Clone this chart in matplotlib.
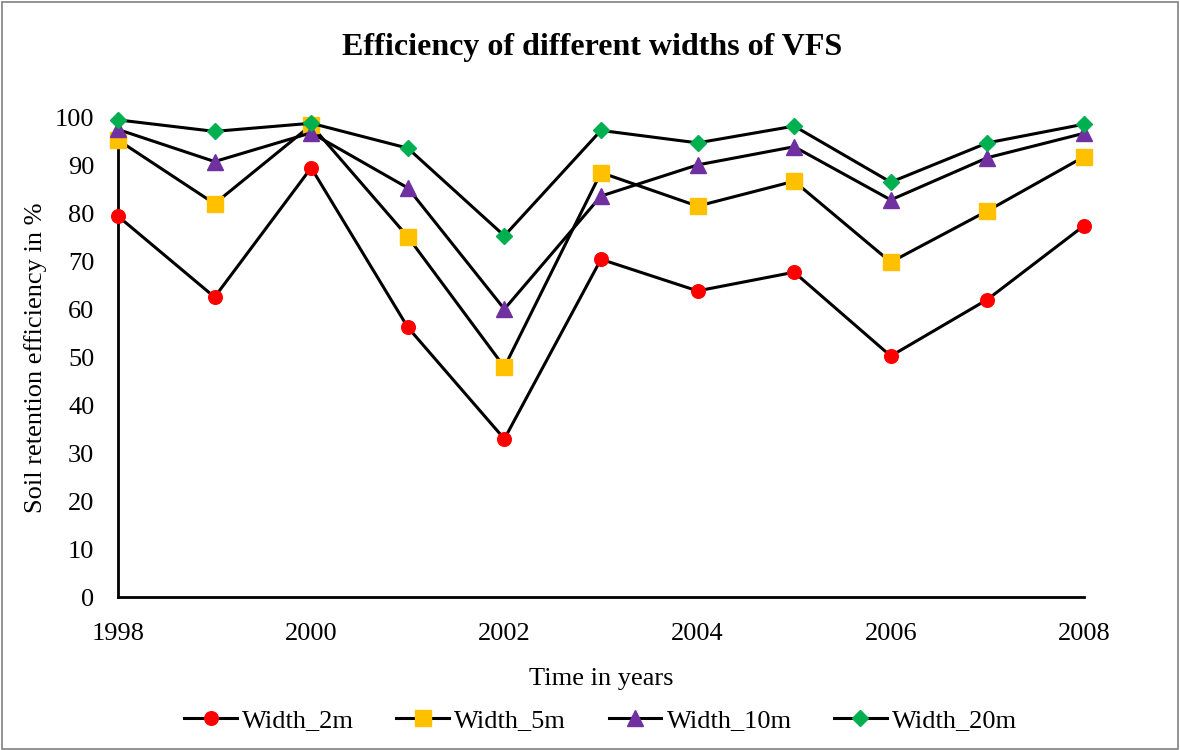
import matplotlib
matplotlib.use("Agg")
import matplotlib.pyplot as plt
from matplotlib.patches import Rectangle

plt.rcParams['font.family'] = ['Liberation Serif', 'DejaVu Serif']

years = [1998, 1999, 2000, 2001, 2002, 2003, 2004, 2005, 2006, 2007, 2008]
width_2m = [79.5, 62.6, 89.6, 56.3, 33.0, 70.5, 63.9, 67.8, 50.3, 62.1, 77.5]
width_5m = [95.4, 82.1, 98.5, 75.2, 48.0, 88.6, 81.6, 86.8, 69.9, 80.6, 91.9]
width_10m = [97.6, 90.9, 96.9, 85.4, 60.1, 83.7, 90.2, 94.0, 82.9, 91.7, 96.8]
width_20m = [99.6, 97.2, 98.9, 93.7, 75.4, 97.4, 94.8, 98.3, 86.6, 94.8, 98.7]

series = [
    ("Width_2m", width_2m, "o", "#FF0000", 9.8),
    ("Width_5m", width_5m, "s", "#FFC000", 11.2),
    ("Width_10m", width_10m, "^", "#7030A0", 11.5),
    ("Width_20m", width_20m, "D", "#00B050", 8.2),
]

fig = plt.figure(figsize=(11.8, 7.5), dpi=100)
ax = fig.add_axes([0.1, 0.204, 0.8186, 0.6387])

for name, vals, mk, col, ms in series:
    ax.plot(years, vals, color="black", linewidth=2.2, marker=mk,
            markerfacecolor=col, markeredgecolor=col, markersize=ms,
            label=name, zorder=3, clip_on=False)

ax.set_xlim(1998, 2008)
ax.set_ylim(0, 100)
ax.set_xticks([1998, 2000, 2002, 2004, 2006, 2008])
ax.set_yticks(range(0, 101, 10))
ax.tick_params(axis='x', length=0, labelsize=19, pad=19)
ax.tick_params(axis='y', length=0, labelsize=19, pad=17)
for s in ['top', 'right']:
    ax.spines[s].set_visible(False)
for s in ['left', 'bottom']:
    ax.spines[s].set_linewidth(2)
    ax.spines[s].set_color('black')

ax.set_xlabel("Time in years", fontsize=19, labelpad=16)
ax.set_ylabel("Soil retention efficiency in %", fontsize=19, labelpad=6)
fig.text(0.502, 0.937, "Efficiency of different widths of VFS", ha='center',
         va='center', fontsize=23, fontweight='bold')

leg = fig.legend(loc='center', bbox_to_anchor=(0.509, 0.04), ncol=4,
                 frameon=False, fontsize=19, handlelength=2.0,
                 columnspacing=1.6, handletextpad=0.2)

fig.patches.append(Rectangle((0.002, 0.002), 0.996, 0.996, transform=fig.transFigure,
                             fill=False, edgecolor='#808080', linewidth=1.2))

fig.savefig("out.png", dpi=100)
